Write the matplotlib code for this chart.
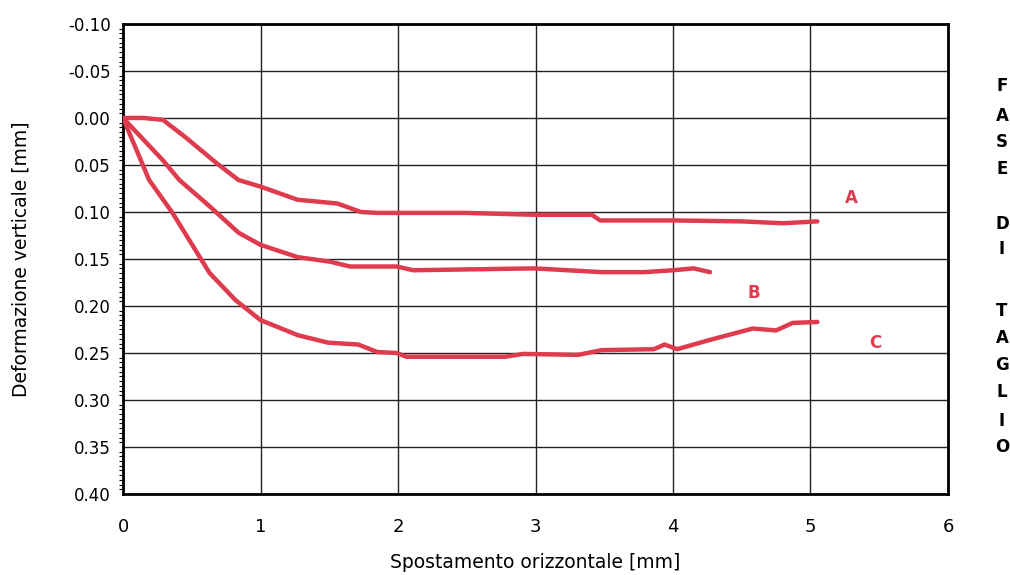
import matplotlib.pyplot as plt
from matplotlib.ticker import MultipleLocator

# Curve data (x: horizontal displacement, y: vertical deformation)
a_x = [0.0, 0.15, 0.29, 0.45, 0.68, 0.84, 1.0, 1.27, 1.56, 1.73, 1.85, 2.5, 3.0, 3.41, 3.47, 4.0, 4.5, 4.8, 5.05]
a_y = [0.0, 0.0, 0.002, 0.02, 0.048, 0.066, 0.073, 0.087, 0.091, 0.100, 0.101, 0.101, 0.103, 0.103, 0.109, 0.109, 0.110, 0.112, 0.110]

b_x = [0.0, 0.29, 0.41, 0.63, 0.84, 1.0, 1.27, 1.51, 1.65, 1.99, 2.11, 2.99, 3.48, 3.79, 4.0, 4.15, 4.27]
b_y = [0.0, 0.045, 0.066, 0.094, 0.122, 0.135, 0.148, 0.153, 0.158, 0.158, 0.162, 0.160, 0.164, 0.164, 0.162, 0.160, 0.164]

c_x = [0.0, 0.19, 0.36, 0.63, 0.82, 1.0, 1.27, 1.49, 1.71, 1.85, 1.99, 2.06, 2.78, 2.91, 3.31, 3.48,
       3.86, 3.94, 4.03, 4.27, 4.58, 4.75, 4.87, 5.05]
c_y = [0.0, 0.066, 0.101, 0.165, 0.194, 0.215, 0.231, 0.239, 0.241, 0.249, 0.250, 0.254, 0.254, 0.251, 0.252, 0.247,
       0.246, 0.241, 0.246, 0.236, 0.224, 0.226, 0.218, 0.217]

labels = ["A", "B", "C"]
label_pos = [(5.3, 0.085), (4.59, 0.186), (5.47, 0.239)]

x_ticks = [0, 1, 2, 3, 4, 5, 6]
y_ticks = [-0.10, -0.05, 0.00, 0.05, 0.10, 0.15, 0.20, 0.25, 0.30, 0.35, 0.40]
side_text = ["F", "A", "S", "E", "D", "I", "T", "A", "G", "L", "I", "O"]

RED = "#df3b4e"
# vertical pixel rows (from top) of the stacked side caption letters
SIDE_ROWS = [86, 116, 142, 169, 224, 249, 311, 338, 365, 392, 421, 447]

fig = plt.figure(figsize=(10.1, 5.75), dpi=100)
ax = fig.add_axes([0.1218, 0.1409, 0.8168, 0.8174])

for xs, ys in [(a_x, a_y), (b_x, b_y), (c_x, c_y)]:
    ax.plot(xs, ys, color=RED, linewidth=3.2, solid_capstyle="round", solid_joinstyle="round", zorder=3)

for lab, (lx, ly) in zip(labels, label_pos):
    ax.text(lx, ly, lab, color=RED, fontsize=12, fontweight="bold", ha="center", va="center")

ax.set_xlim(0, 6)
ax.set_ylim(0.40, -0.10)
ax.set_xticks(x_ticks)
ax.set_xticklabels([str(v) for v in x_ticks], fontsize=13)
ax.set_yticks(y_ticks)
ax.set_yticklabels(["%.2f" % v for v in y_ticks], fontsize=12)
ax.yaxis.set_minor_locator(MultipleLocator(0.005))
ax.tick_params(axis="x", length=0, pad=17)
ax.tick_params(axis="y", which="major", length=0, pad=9)
ax.tick_params(axis="y", which="minor", length=3, width=0.8)
ax.grid(True, which="major", color="#222222", linewidth=1.0)

for sp in ax.spines.values():
    sp.set_linewidth(2)

ax.set_xlabel("Spostamento orizzontale [mm]", fontsize=13.5)
ax.xaxis.set_label_coords(0.5, -0.125)
ax.set_ylabel("Deformazione verticale [mm]", fontsize=13.5)
ax.yaxis.set_label_coords(-0.112, 0.5)

# vertical stacked side caption
for ch, row in zip(side_text, SIDE_ROWS):
    fig.text(1002 / 1010, 1 - row / 575, ch, fontsize=12, fontweight="bold", ha="center", va="center")

fig.savefig("out.png", dpi=100)
